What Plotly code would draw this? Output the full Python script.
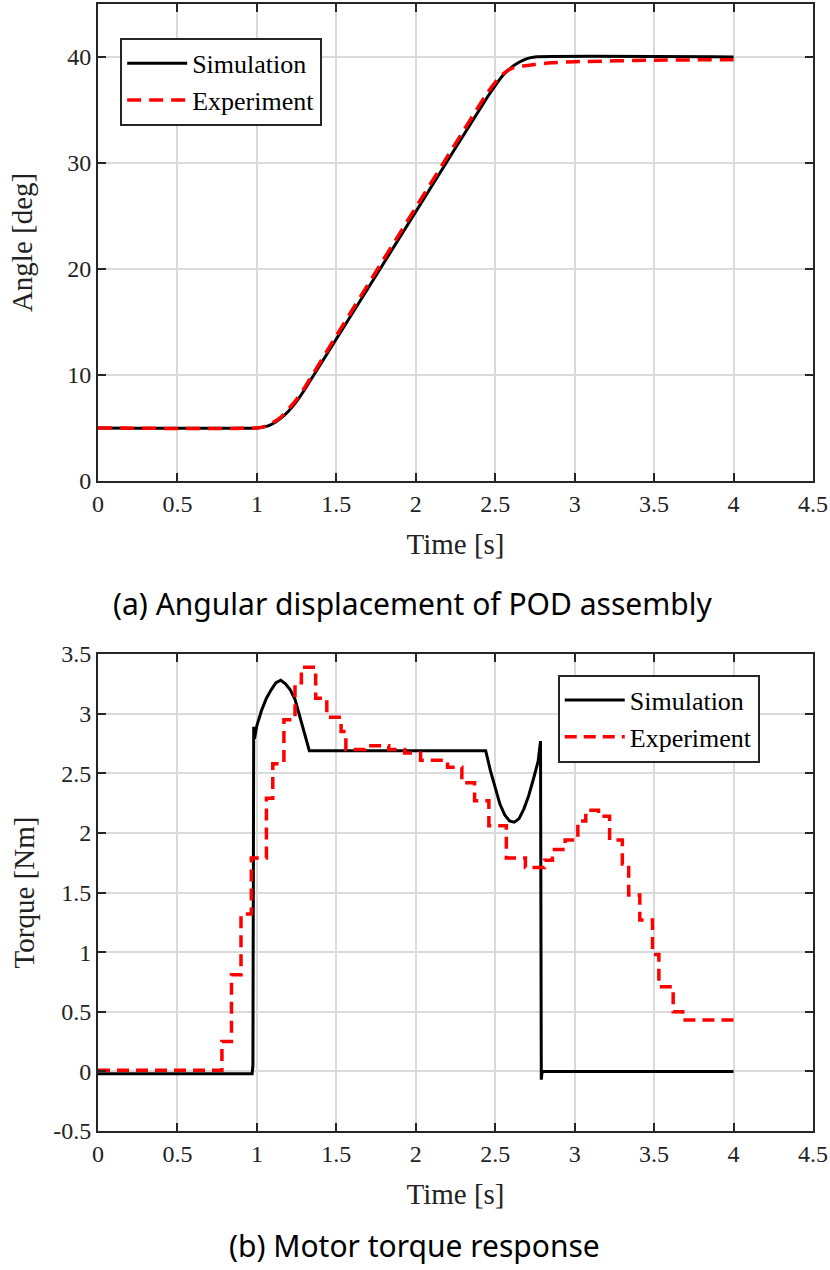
import plotly.graph_objects as go

# ---------------- data ----------------
ang_sim_t = [0, 1.0, 1.05, 1.1, 1.15, 1.2, 1.25, 1.3, 1.5, 2.0, 2.45, 2.5, 2.55, 2.6, 2.65, 2.7, 2.75, 4.0]
ang_sim_v = [5, 5, 5.1, 5.4, 5.9, 6.6, 7.5, 8.6, 13.4, 25.4, 36.2, 37.3, 38.3, 39.0, 39.5, 39.85, 40, 40]

ang_exp_t = [0, 1.0, 1.05, 1.1, 1.15, 1.2, 1.25, 1.3, 1.5, 2.0, 2.45, 2.5, 2.55, 2.6, 2.65, 2.7, 2.75, 2.85, 3.0, 3.5, 4.0]
ang_exp_v = [5, 5, 5.15, 5.5, 6.0, 6.8, 7.7, 8.8, 13.7, 25.8, 36.6, 37.6, 38.4, 38.9, 39.1, 39.2, 39.3, 39.45, 39.55, 39.7, 39.75]

tq_sim_t = [0, 0.97, 0.975, 0.98, 0.985, 1.0, 1.03, 1.06, 1.09, 1.12, 1.15, 1.18, 1.21, 1.24, 1.33,
            2.44, 2.47, 2.50, 2.53, 2.56, 2.59, 2.62, 2.65, 2.68, 2.71, 2.74, 2.77, 2.785, 2.79, 2.795, 4.0]
tq_sim_v = [-0.02, -0.02, 0.05, 2.89, 2.79, 2.90, 3.03, 3.13, 3.20, 3.26, 3.28, 3.25, 3.20, 3.12, 2.69,
            2.69, 2.52, 2.37, 2.24, 2.15, 2.10, 2.09, 2.12, 2.20, 2.31, 2.45, 2.60, 2.77, -0.07, 0.0, 0.0]

tq_exp_t = [0, 0.78, 0.84, 0.90, 0.965, 1.06, 1.10, 1.17, 1.24, 1.28, 1.37, 1.44, 1.53, 1.56, 1.68, 1.83,
            1.93, 2.03, 2.2, 2.29, 2.37, 2.46, 2.57, 2.69, 2.81, 2.86, 2.94, 3.02, 3.07, 3.15, 3.22,
            3.30, 3.34, 3.41, 3.49, 3.53, 3.62, 3.68, 4.0]
tq_exp_v = [0.01, 0.25, 0.81, 1.32, 1.79, 2.29, 2.58, 2.95, 3.26, 3.39, 3.13, 2.97, 2.85, 2.70, 2.73, 2.70,
            2.67, 2.61, 2.55, 2.42, 2.27, 2.06, 1.79, 1.71, 1.77, 1.86, 1.94, 2.10, 2.19, 2.14, 1.94,
            1.74, 1.48, 1.27, 0.98, 0.71, 0.50, 0.43, 0.43]

x_ticks = [0, 0.5, 1, 1.5, 2, 2.5, 3, 3.5, 4, 4.5]
x_ticktext = ["0", "0.5", "1", "1.5", "2", "2.5", "3", "3.5", "4", "4.5"]
ang_ticks = [0, 10, 20, 30, 40]
tq_ticks = [-0.5, 0, 0.5, 1, 1.5, 2, 2.5, 3, 3.5]
tq_ticktext = ["-0.5", "0", "0.5", "1", "1.5", "2", "2.5", "3", "3.5"]

captions = ["(a) Angular displacement of POD assembly", "(b) Motor torque response"]

# ---------------- figure ----------------
SERIF = "Liberation Serif, Times New Roman, serif"
SANS = "Noto Sans, Open Sans, sans-serif"
RED = "#ff0000"

fig = go.Figure()
fig.add_trace(go.Scatter(x=ang_sim_t, y=ang_sim_v, mode="lines", name="Simulation",
                         line=dict(color="black", width=3, shape="spline", smoothing=0.6),
                         xaxis="x", yaxis="y", legend="legend"))
fig.add_trace(go.Scatter(x=ang_exp_t, y=ang_exp_v, mode="lines", name="Experiment",
                         line=dict(color=RED, width=3.5, dash="14px,8px", shape="spline", smoothing=0.6),
                         xaxis="x", yaxis="y", legend="legend"))
fig.add_trace(go.Scatter(x=tq_sim_t, y=tq_sim_v, mode="lines", name="Simulation",
                         line=dict(color="black", width=3),
                         xaxis="x2", yaxis="y2", legend="legend2"))
fig.add_trace(go.Scatter(x=tq_exp_t, y=tq_exp_v, mode="lines", name="Experiment",
                         line=dict(color=RED, width=3.5, dash="12px,7px", shape="hv"),
                         xaxis="x2", yaxis="y2", legend="legend2"))

axis_common = dict(showline=True, linecolor="#262626", linewidth=2, mirror="ticks",
                   ticks="inside", ticklen=8, tickwidth=2, tickcolor="#262626",
                   showgrid=True, gridcolor="#dadada", gridwidth=1.5, zeroline=False,
                   automargin=False, ticklabeloverflow="allow",
                   tickfont=dict(family=SERIF, size=24, color="#222"),
                   title_font=dict(family=SERIF, size=29, color="#222"))

top_dom = [0.5768, 1.0]
bot_dom = [0.0, 0.4232]

fig.update_layout(
    width=830, height=1270,
    margin=dict(l=98, r=17, t=4, b=139),
    paper_bgcolor="white", plot_bgcolor="white",
    xaxis=dict(axis_common, domain=[0, 1], anchor="y", range=[0, 4.5],
               tickvals=x_ticks, ticktext=x_ticktext,
               title=dict(text="Time [s]", standoff=18)),
    yaxis=dict(axis_common, domain=top_dom, anchor="x", range=[0, 45],
               tickvals=ang_ticks, title=dict(text="Angle [deg]", standoff=26)),
    xaxis2=dict(axis_common, domain=[0, 1], anchor="y2", range=[0, 4.5],
                tickvals=x_ticks, ticktext=x_ticktext,
                title=dict(text="Time [s]", standoff=18)),
    yaxis2=dict(axis_common, domain=bot_dom, anchor="x2", range=[-0.5, 3.5],
                tickvals=tq_ticks, ticktext=tq_ticktext,
                title=dict(text="Torque [Nm]", standoff=10)),
    legend=dict(x=0.031, y=0.97, xanchor="left", yanchor="top",
                bgcolor="white", bordercolor="#262626", borderwidth=2,
                font=dict(family=SERIF, size=26, color="black"),
                tracegroupgap=0, itemwidth=60),
    legend2=dict(x=0.643, y=0.405, xanchor="left", yanchor="top",
                 bgcolor="white", bordercolor="#262626", borderwidth=2,
                 font=dict(family=SERIF, size=26, color="black"),
                 tracegroupgap=0, itemwidth=60),
    showlegend=True,
)

fig.add_annotation(text=captions[0], x=0.44, y=(1131 - 603) / 1127, xref="paper", yref="paper",
                   showarrow=False, font=dict(family=SANS, size=30, color="black"),
                   xanchor="center", yanchor="middle")
fig.add_annotation(text=captions[1], x=0.443, y=(1131 - 1245) / 1127, xref="paper", yref="paper",
                   showarrow=False, font=dict(family=SANS, size=30, color="black"),
                   xanchor="center", yanchor="middle")

fig.write_html("out.html")
